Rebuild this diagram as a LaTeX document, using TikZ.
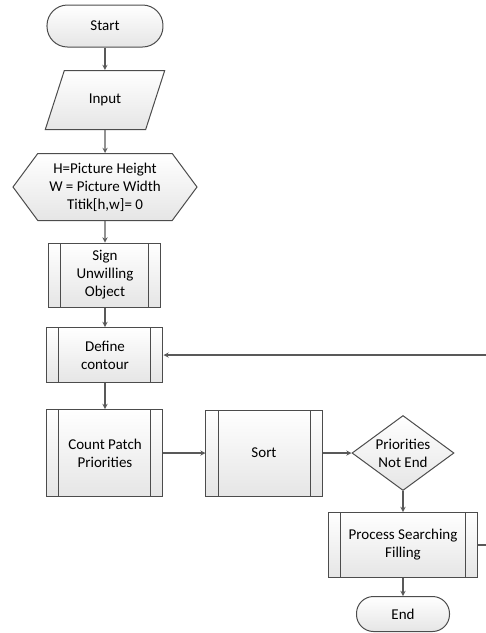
\documentclass[tikz,border=0pt]{standalone}
\usepackage{fontspec}
\setmainfont{Carlito}
\usetikzlibrary{shapes.geometric, shapes.symbols, arrows}

\tikzstyle{box} = [
    draw=black!70,
    line width=1pt,
    top color=white,
    bottom color=black!10,
    font=\fontsize{15}{18}\selectfont,
    align=center,
    inner sep=2pt
]
\tikzstyle{startstop} = [
    box,
    rectangle,
    rounded corners=20.5pt,
    minimum width=116pt,
    minimum height=42pt
]
\tikzstyle{inputoutput} = [
    box,
    trapezium,
    trapezium left angle=62,
    trapezium right angle=118,
    trapezium stretches=true,
    minimum width=120pt,
    minimum height=59pt
]
\tikzstyle{preparation} = [
    box,
    signal,
    signal to=east and west,
    signal pointer angle=107,
    minimum width=184pt,
    minimum height=67pt
]
\tikzstyle{subproc} = [
    box,
    rectangle,
    minimum width=116pt,
    path picture={
        \draw[draw=black!70, line width=1pt]
            ([xshift=12pt]path picture bounding box.north west) --
            ([xshift=12pt]path picture bounding box.south west)
            ([xshift=-12pt]path picture bounding box.north east) --
            ([xshift=-12pt]path picture bounding box.south east);
    }
]
\tikzstyle{decision} = [
    box,
    diamond,
    aspect=1.36,
    inner sep=-3pt,
    minimum width=102pt,
    minimum height=75pt
]
\tikzstyle{arrow} = [draw=black!65, line width=1.3pt, ->, >=stealth]

\begin{document}
\begin{tikzpicture}[node distance=87pt]

\node (start) [startstop] {Start};

\useasboundingbox ([xshift=-105pt, yshift=26pt]start.center)
    rectangle ++(486pt,-633pt);

\node (input) [inputoutput, below of=start, yshift=13pt]
{Input};

\node (init) [preparation, below of=input]
{H=Picture Height\\W = Picture Width\\Titik[h,w]= 0};

\node (sign) [subproc, below of=init, yshift=-1pt,
    minimum width=112pt, minimum height=64pt]
{Sign\\Unwilling\\Object};

\node (define) [subproc, below of=sign, yshift=7pt, minimum height=55pt]
{Define\\contour};

\node (count) [subproc, below of=define, yshift=-11pt, minimum height=87pt]
{Count Patch\\Priorities};

\node (sort) [subproc, right of=count, xshift=72pt, minimum height=86pt]
{Sort};

\node (decision) [decision, right of=sort, xshift=52pt]
{Priorities\\Not End};

\node (process) [subproc, below of=decision, yshift=-5pt,
    minimum width=149pt, minimum height=65pt]
{Process Searching\\Filling};

\node (stop) [startstop, below of=process, yshift=18pt,
    rounded corners=17pt, minimum width=93pt, minimum height=35pt]
{End};

\coordinate (edge) at ([xshift=381pt]start.center);
\coordinate (loopout) at (process.east -| edge);
\coordinate (loopin) at (define.east -| edge);

\draw [arrow] (start) -- (input);
\draw [arrow] (input) -- (init);
\draw [arrow] (init) -- (sign);
\draw [arrow] (sign) -- (define);
\draw [arrow] (define) -- (count);
\draw [arrow] (count) -- (sort);
\draw [arrow] (sort) -- (decision);
\draw [arrow] (decision) -- (process);
\draw [arrow] (process) -- (stop);

\draw [arrow, -] (process) -- (loopout);
\draw [arrow] (loopin) -- (define);

\end{tikzpicture}
\end{document}
